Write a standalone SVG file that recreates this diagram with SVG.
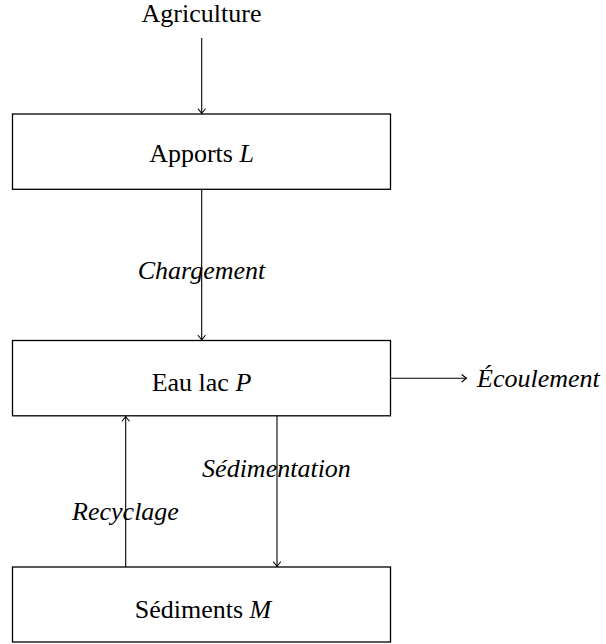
<svg xmlns="http://www.w3.org/2000/svg" width="606" height="644" viewBox="0 0 606 644">
<style>
text{font-family:"Liberation Serif","Times New Roman",serif;font-size:26px;fill:#000}
.it{font-style:italic}
.box{fill:#fff;stroke:#000;stroke-width:1.3}
.edge{stroke:#000;stroke-width:1.1;fill:none;marker-end:url(#arr)}
</style>
<defs>
<marker id="arr" markerUnits="userSpaceOnUse" markerWidth="12" markerHeight="12" refX="0" refY="0" viewBox="-6 -6 12 12" orient="auto" overflow="visible">
<path d="M-4.5,-3.5 Q-1.2,-0.8 0,0 Q-1.2,0.8 -4.5,3.5" fill="none" stroke="#000" stroke-width="1.1" stroke-linecap="round"/>
</marker>
</defs>
<g id="connectors">
<line class="edge" x1="201.7" y1="38" x2="201.7" y2="113.5"/>
<line class="edge" x1="201.7" y1="189" x2="201.7" y2="340"/>
<line class="edge" x1="391" y1="378.3" x2="466.5" y2="378.3"/>
<line class="edge" x1="125.7" y1="567" x2="125.7" y2="416.5"/>
<line class="edge" x1="277" y1="416" x2="277" y2="566.5"/>
</g>
<g id="agriculture"><text x="201.5" y="22" text-anchor="middle">Agriculture</text></g>
<g id="apports">
<rect class="box" x="12.5" y="114" width="378" height="75.3"/>
<text x="201.5" y="162" text-anchor="middle">Apports <tspan class="it">L</tspan></text>
</g>
<g id="eaulac">
<rect class="box" x="12.5" y="340.5" width="378" height="75.3"/>
<text x="201.5" y="391" text-anchor="middle">Eau lac <tspan class="it">P</tspan></text>
</g>
<g id="sediments">
<rect class="box" x="12.5" y="567" width="378" height="75"/>
<text x="203" y="617.5" text-anchor="middle">Sédiments <tspan class="it">M</tspan></text>
</g>
<g id="labels">
<text class="it" x="201.5" y="279" text-anchor="middle">Chargement</text>
<text class="it" x="477" y="386.5">Écoulement</text>
<text class="it" x="276.5" y="477" text-anchor="middle">Sédimentation</text>
<text class="it" x="125.5" y="520" text-anchor="middle">Recyclage</text>
</g>
</svg>
